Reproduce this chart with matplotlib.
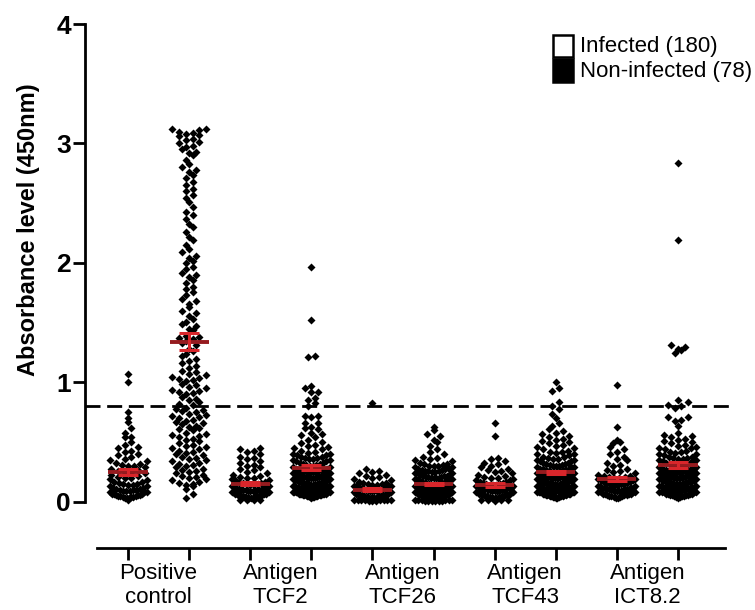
import numpy as np
import matplotlib
matplotlib.use("Agg")
import matplotlib.pyplot as plt
from matplotlib.patches import Rectangle

plt.rcParams['font.family'] = ['Liberation Sans', 'DejaVu Sans']


def vals(text):
    return np.array(text.split(), dtype=float)


# Absorbance readings (450 nm) for each antigen, non-infected then infected sera
pc_non = vals("""
1.07 1.00 0.75 0.70 0.67 0.62 0.58 0.54 0.54 0.50 0.48 0.46 0.45 0.43 0.42 0.40 0.39 0.38 0.36 0.35
0.34 0.33 0.32 0.31 0.30 0.30 0.29 0.28 0.27 0.26 0.25 0.25 0.24 0.23 0.22 0.21 0.20 0.20 0.19 0.18
0.17 0.17 0.16 0.15 0.15 0.14 0.14 0.13 0.13 0.12 0.12 0.11 0.11 0.10 0.10 0.10 0.09 0.09 0.09 0.08
0.08 0.08 0.07 0.07 0.07 0.06 0.06 0.06 0.05 0.05 0.05 0.04 0.04 0.04 0.03 0.03 0.03 0.02
""")
pc_inf = vals("""
3.12 3.12 3.11 3.10 3.09 3.08 3.07 3.06 3.04 3.03 3.01 3.00 2.98 2.97 2.95 2.93 2.92 2.90
2.86 2.83 2.80 2.78 2.76 2.74 2.71 2.68 2.65 2.62 2.60 2.57 2.54 2.51
2.47 2.43 2.40 2.37 2.33 2.30 2.26 2.22 2.19 2.15 2.12 2.09 2.06 2.04 2.02 2.00
1.97 1.95 1.92 1.90 1.88 1.86 1.83 1.80 1.78 1.76 1.73 1.70 1.68 1.66 1.63 1.60 1.58 1.56 1.53 1.51
1.49 1.47 1.45 1.44
1.39 1.38 1.37 1.36 1.35 1.33 1.31 1.28 1.26 1.24 1.22 1.20 1.18 1.16 1.14 1.12 1.10 1.09 1.07 1.06
1.05 1.04 1.03 1.02 1.01
0.99 0.98 0.96 0.95 0.94 0.93 0.92 0.91 0.90 0.88 0.86 0.85 0.84 0.82 0.81
0.79 0.78 0.77 0.76 0.75 0.74 0.73 0.72 0.71 0.70 0.69 0.68 0.67 0.66 0.65 0.64 0.63 0.62 0.61 0.60
0.58 0.57 0.56 0.55 0.54 0.53 0.52 0.51
0.49 0.48 0.47 0.46 0.45 0.44 0.43 0.42 0.41 0.40 0.39 0.38 0.37 0.36 0.35 0.34 0.33 0.32 0.31 0.30
0.29 0.28 0.27 0.26 0.25 0.24 0.23 0.22 0.21 0.20
0.19 0.18 0.17 0.16 0.15 0.14 0.13 0.11 0.07 0.03
""")
tcf2_non = vals("""
0.45 0.44 0.43 0.42 0.40 0.38 0.37 0.36 0.34 0.33 0.31 0.30 0.29 0.28 0.27 0.25 0.24 0.23 0.22 0.21
0.20 0.20 0.19 0.18 0.18 0.17 0.17 0.16 0.16 0.15 0.15 0.14 0.14 0.13 0.13 0.13 0.12 0.12 0.12 0.11
0.11 0.11 0.10 0.10 0.10 0.10 0.09 0.09 0.09 0.09 0.08 0.08 0.08 0.08 0.07 0.07 0.07 0.07 0.06 0.06
0.06 0.06 0.05 0.05 0.05 0.05 0.04 0.04 0.04 0.04 0.03 0.03 0.03 0.03 0.02 0.02 0.02 0.02
""")
tcf2_inf = vals("""
1.97 1.52 1.22 1.21 0.97 0.95 0.92 0.92 0.87 0.85 0.83 0.80 0.72 0.72 0.71 0.66 0.66 0.63 0.62 0.61
0.58 0.57 0.56 0.54 0.52
0.50 0.49 0.48 0.47 0.46 0.45 0.44 0.43 0.42 0.41
0.40 0.40 0.39 0.39 0.38 0.38 0.37 0.37 0.36 0.36 0.35 0.35
0.34 0.34 0.33 0.33 0.32 0.32 0.31 0.31 0.30 0.30 0.29 0.29 0.28 0.28
0.27 0.27 0.27 0.26 0.26 0.26 0.25 0.25 0.25 0.24 0.24 0.24 0.23 0.23 0.23 0.22
0.22 0.22 0.21 0.21 0.21 0.20 0.20 0.20 0.19 0.19 0.19 0.18 0.18 0.18 0.17 0.17 0.17
0.16 0.16 0.16 0.15 0.15 0.15 0.15 0.14 0.14 0.14 0.14 0.13 0.13 0.13 0.13 0.12 0.12 0.12 0.12
0.11 0.11 0.11 0.11 0.10 0.10 0.10 0.10 0.10 0.09 0.09 0.09 0.09 0.09 0.08 0.08 0.08 0.08 0.08 0.07
0.07 0.07 0.07 0.07 0.06 0.06 0.06 0.06 0.06 0.05 0.05 0.05 0.05 0.04 0.04 0.04 0.03
0.25 0.24 0.23 0.22 0.21 0.20 0.19 0.18 0.17 0.16 0.15 0.14 0.13 0.12 0.11 0.10 0.09 0.08 0.07 0.06
0.20 0.18 0.16 0.14 0.12 0.10 0.08 0.13 0.11 0.09
""")
tcf26_non = vals("""
0.83 0.28 0.26 0.25 0.24 0.23 0.22 0.21 0.20 0.19 0.18 0.17 0.16 0.16 0.15 0.15 0.14 0.14 0.13 0.13
0.13 0.13 0.13 0.12 0.12 0.12 0.11 0.11 0.11 0.10 0.10 0.10 0.10 0.09 0.09 0.09 0.09 0.08 0.08 0.08
0.08 0.07 0.07 0.07 0.07 0.06 0.06 0.06 0.06 0.06 0.05 0.05 0.05 0.05 0.05 0.04 0.04 0.04 0.04 0.04
0.04 0.03 0.03 0.03 0.03 0.03 0.03 0.02 0.02 0.02 0.02 0.02 0.02 0.02 0.01 0.01 0.01 0.02
""")
tcf26_inf = vals("""
0.63 0.60 0.57 0.55 0.52 0.50 0.47 0.44 0.42 0.40
0.38 0.37 0.36 0.35 0.34 0.33 0.32 0.32 0.31 0.30 0.30 0.29 0.29 0.28 0.28 0.27 0.27 0.26 0.26 0.25
0.25 0.24 0.24 0.23 0.23 0.22 0.22 0.21 0.21 0.20 0.20 0.20 0.19 0.19 0.19 0.18 0.18 0.18 0.17 0.17
0.17 0.16 0.16 0.16 0.15 0.15 0.15 0.15 0.14 0.14 0.14 0.14 0.13 0.13 0.13 0.13 0.12 0.12 0.12 0.12
0.11 0.11 0.11 0.11 0.11 0.10 0.10 0.10 0.10 0.10 0.09 0.09 0.09 0.09 0.09 0.08 0.08 0.08 0.08 0.08
0.07 0.07 0.07 0.07 0.07 0.07 0.06 0.06 0.06 0.06 0.06 0.06 0.05 0.05 0.05 0.05 0.05 0.05 0.04 0.04
0.04 0.04 0.04 0.04 0.03 0.03 0.03 0.03 0.03 0.02 0.02 0.02 0.02 0.02 0.01 0.01 0.01 0.01 0.01 0.01
0.30 0.28 0.26 0.24 0.22 0.20 0.18 0.16 0.14 0.12 0.10 0.08 0.06 0.04 0.15 0.13 0.11 0.09 0.07 0.05
0.21 0.19 0.17 0.15 0.13 0.11 0.09 0.07 0.05 0.03 0.12 0.10 0.08 0.06 0.04 0.14 0.10 0.08 0.06 0.04
0.02 0.10 0.08 0.06 0.04 0.03 0.09 0.07 0.05 0.03
""")
tcf43_non = vals("""
0.66 0.55 0.37 0.36 0.34 0.33 0.32 0.30 0.29 0.28 0.27 0.26 0.25 0.24 0.23 0.22 0.21 0.20 0.20 0.19
0.18 0.18 0.17 0.17 0.16 0.16 0.15 0.15 0.14 0.14 0.14 0.13 0.13 0.13 0.12 0.12 0.12 0.11 0.11 0.11
0.10 0.10 0.10 0.10 0.09 0.09 0.09 0.09 0.08 0.08 0.08 0.08 0.07 0.07 0.07 0.07 0.06 0.06 0.06 0.06
0.05 0.05 0.05 0.05 0.04 0.04 0.04 0.04 0.03 0.03 0.03 0.03 0.03 0.02 0.02 0.02 0.02 0.01
""")
tcf43_inf = vals("""
1.00 0.95 0.93 0.84 0.80 0.78 0.74 0.70 0.66 0.64 0.61 0.59 0.58 0.57 0.55 0.54 0.53 0.52 0.51 0.50
0.49 0.48 0.47 0.46 0.45 0.44 0.43 0.42 0.42 0.41 0.40 0.40 0.39 0.38 0.38 0.37 0.36 0.36 0.35 0.35
0.34 0.34 0.33 0.33 0.32 0.32 0.31 0.31 0.30 0.30 0.30 0.29 0.29 0.29 0.28 0.28 0.28 0.27 0.27 0.27
0.26 0.26 0.25 0.25 0.25 0.24 0.24 0.24 0.23 0.23 0.23 0.22 0.22 0.22 0.21 0.21 0.21 0.20 0.20 0.20
0.19 0.19 0.19 0.18 0.18 0.18 0.17 0.17 0.17 0.16 0.16 0.16 0.15 0.15 0.15 0.14 0.14 0.14 0.13 0.13
0.13 0.12 0.12 0.12 0.11 0.11 0.11 0.10 0.10 0.10 0.09 0.09 0.09 0.08 0.08 0.08 0.07 0.07 0.07 0.06
0.06 0.06 0.05 0.05 0.05 0.04 0.04 0.04 0.03 0.03 0.20 0.18 0.16 0.14 0.12 0.10 0.08 0.15 0.11 0.09
0.24 0.22 0.20 0.18 0.16 0.14 0.12 0.10 0.08 0.06 0.21 0.19 0.17 0.15 0.13 0.11 0.09 0.07 0.05 0.13
0.23 0.21 0.19 0.17 0.15 0.13 0.11 0.09 0.07 0.05 0.18 0.16 0.14 0.12 0.10 0.08 0.06 0.12 0.10 0.08
""")
ict82_non = vals("""
0.98 0.63 0.52 0.50 0.49 0.46 0.44 0.42 0.40 0.38 0.36 0.35 0.33 0.31 0.30
0.28 0.27 0.26 0.25 0.24 0.23 0.22 0.22 0.21 0.21 0.20 0.20 0.19 0.19 0.18 0.18 0.17 0.17 0.16 0.16 0.15
0.15 0.15 0.14 0.14 0.14 0.13 0.13 0.13 0.12 0.12 0.12 0.12 0.11 0.11 0.11 0.11 0.10 0.10 0.10 0.10 0.09 0.09
0.09 0.09 0.08 0.08 0.08 0.08 0.07 0.07 0.07 0.07 0.06 0.06 0.06 0.05 0.05 0.05 0.04 0.04 0.03 0.03
""")
ict82_inf = vals("""
2.84 2.19 1.31 1.30 1.28 1.27 1.25 0.85 0.84 0.81 0.80 0.79 0.71 0.71 0.69 0.68 0.64 0.58 0.56 0.55
0.54 0.53 0.52 0.51 0.50 0.49 0.48 0.47 0.46 0.45 0.45 0.44 0.43 0.42 0.42 0.41 0.40 0.40 0.39 0.38
0.38 0.37 0.37 0.36 0.36 0.35 0.35 0.34 0.34 0.33 0.33 0.32 0.32 0.31 0.31 0.30 0.30 0.29 0.29 0.28
0.28 0.28 0.27 0.27 0.27 0.26 0.26 0.26 0.25 0.25 0.25 0.24 0.24 0.24 0.23 0.23 0.23 0.22 0.22 0.22
0.21 0.21 0.21 0.20 0.20 0.20 0.19 0.19 0.19 0.18 0.18 0.18 0.17 0.17 0.17 0.16 0.16 0.16 0.15 0.15
0.15 0.14 0.14 0.14 0.13 0.13 0.13 0.12 0.12 0.12 0.11 0.11 0.11 0.10 0.10 0.10 0.09 0.09 0.09 0.08
0.08 0.08 0.07 0.07 0.07 0.06 0.06 0.06 0.05 0.05 0.05 0.04 0.04 0.03 0.20 0.18 0.16 0.14 0.12 0.10
0.26 0.24 0.22 0.20 0.18 0.16 0.14 0.12 0.10 0.08 0.25 0.23 0.21 0.19 0.17 0.15 0.13 0.11 0.09 0.07
0.27 0.25 0.23 0.21 0.19 0.17 0.15 0.13 0.11 0.09 0.24 0.22 0.20 0.18 0.16 0.14 0.12 0.10 0.08 0.06
""")

groups = [pc_non, pc_inf, tcf2_non, tcf2_inf, tcf26_non, tcf26_inf,
          tcf43_non, tcf43_inf, ict82_non, ict82_inf]
pair_labels = ["Positive\ncontrol", "Antigen\nTCF2", "Antigen\nTCF26",
               "Antigen\nTCF43", "Antigen\nICT8.2"]
legend_labels = ["Infected (180)", "Non-infected (78)"]
y_ticks = [0, 1, 2, 3, 4]
cutoff = 0.80

# ---- figure geometry -------------------------------------------------------
W, H = 755, 610
fig = plt.figure(figsize=(W / 100, H / 100), dpi=100)
ax_left, ax_bottom, ax_w, ax_h = 85, 62, 640, 524
ax = fig.add_axes([ax_left / W, ax_bottom / H, ax_w / W, ax_h / H])
xmin, xmax = -0.704, 9.77
ymin, ymax = -0.385, 4.0
ax.set_xlim(xmin, xmax)
ax.set_ylim(ymin, ymax)
px_x = ax_w / (xmax - xmin)
px_y = ax_h / (ymax - ymin)


def swarm_offsets(v, row_h=6.5, gap=6.8, max_w=37.0):
    """Prism-style column scatter: values binned in rows, spread sideways."""
    rows = np.round(v * px_y / row_h).astype(int)
    off = np.zeros(len(v))
    for r in np.unique(rows):
        idx = np.where(rows == r)[0]
        idx = idx[np.argsort(v[idx], kind="stable")]
        n = len(idx)
        step = gap if n <= 1 else min(gap, max_w / (n - 1))
        for k, i in enumerate(idx):
            slot = ((k + 1) // 2) * (1 if k % 2 else -1)
            off[i] = slot * step
        if n % 2 == 0:
            off[idx] -= step / 2
    return off / px_x


positions = np.arange(len(groups))
for xpos, v in zip(positions, groups):
    ax.plot(xpos + swarm_offsets(v), v, ls="none", marker="D", ms=3.8,
            mfc="black", mec="none", zorder=3, clip_on=False)
    mean = v.mean()
    sem = v.std(ddof=1) / np.sqrt(len(v))
    ax.plot([xpos - 0.32, xpos + 0.32], [mean, mean], color="#961b1f",
            lw=2.8, solid_capstyle="butt", zorder=5)
    ax.errorbar(xpos, mean, yerr=sem, fmt="none", ecolor="#d8262b",
                elinewidth=2.2, capsize=7.5, capthick=2.2, zorder=6)

# cut-off line
ax.plot([xmin, 9.93], [cutoff, cutoff], color="black", lw=2.0,
        ls=(0, (5.4, 2.4)), clip_on=False, zorder=2)

# ---- axes styling ----------------------------------------------------------
for s in ("top", "right"):
    ax.spines[s].set_visible(False)
ax.spines["left"].set_bounds(0, 4)
ax.spines["bottom"].set_bounds(-0.507, xmax)
ax.spines["left"].set_linewidth(2.0)
ax.spines["bottom"].set_linewidth(2.0)

ax.set_yticks(y_ticks)
ax.set_yticklabels([str(t) for t in y_ticks], fontsize=19, fontweight="bold")
ax.tick_params(axis="y", length=8.5, width=2.0, pad=1.5)

ax.set_xticks(positions)
ax.set_xticklabels([])
ax.tick_params(axis="x", which="major", length=8.5, width=2.0)
ax.set_xticks(positions[::2] + 0.5, minor=True)
ax.set_xticklabels(pair_labels, minor=True, fontsize=16)
ax.tick_params(axis="x", which="minor", length=0, pad=11)

ax.text(-0.089, 0.607, "Absorbance level (450nm)", transform=ax.transAxes,
        rotation=90, ha="center", va="center", fontsize=17, fontweight="bold")

# ---- legend ----------------------------------------------------------------
fig.patches.append(Rectangle((553 / W, (H - 57) / H), 20 / W, 22 / H,
                             transform=fig.transFigure, facecolor="white",
                             edgecolor="black", lw=1.8))
fig.patches.append(Rectangle((553 / W, (H - 82) / H), 20 / W, 23 / H,
                             transform=fig.transFigure, facecolor="black",
                             edgecolor="black", lw=1.8))
fig.text(580 / W, (H - 46.5) / H, legend_labels[0], fontsize=16,
         ha="left", va="center")
fig.text(580 / W, (H - 71.5) / H, legend_labels[1], fontsize=16,
         ha="left", va="center")

fig.savefig("out.png", dpi=100)
